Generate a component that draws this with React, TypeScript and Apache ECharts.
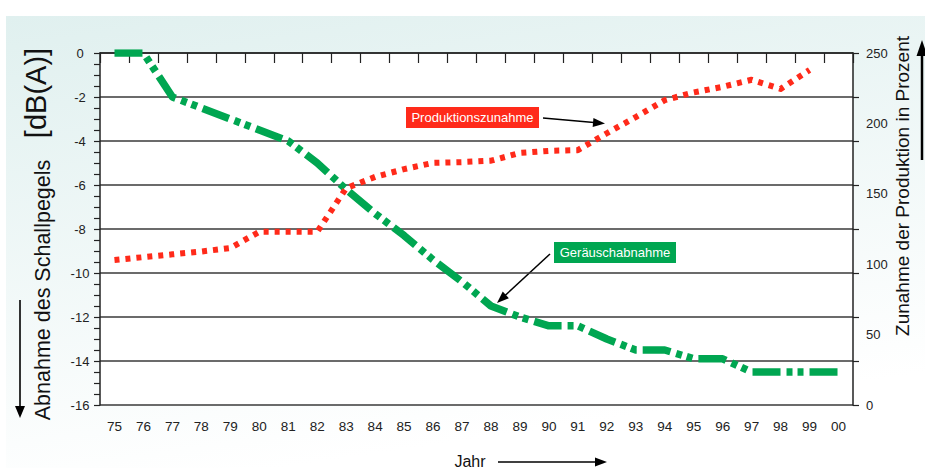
import React, { useEffect, useRef } from "react";
import * as echarts from "echarts";

const years = ["75","76","77","78","79","80","81","82","83","84","85","86","87","88","89","90","91","92","93","94","95","96","97","98","99","00"];
const noiseDb = [0, 0, -2, -2.5, -3, -3.5, -4, -5, -6.2, -7.3, -8.3, -9.4, -10.4, -11.5, -12, -12.4, -12.4, -13, -13.5, -13.5, -13.9, -13.9, -14.5, -14.5, -14.5, -14.5];
const production = [103, 105, 107, 109, 111.5, 123, 123, 123, 154, 162, 167.5, 172, 172.5, 173.5, 179, 180.5, 181, 193, 204.5, 216.5, 222, 226, 231, 224.5, 238, null];
const leftTicks = { min: -16, max: 0, step: 2 };
const rightTicks = { min: 0, max: 250, step: 50 };

const FONT = "'Liberation Sans', Arial, Helvetica, sans-serif";
const GREEN = "#00a651";
const RED = "#ff2a1a";

function f(size: number) {
  return `${size}px ${FONT}`;
}

function arrowHead(tipX: number, tipY: number, fromX: number, fromY: number, len: number, half: number, color: string) {
  const dx = tipX - fromX, dy = tipY - fromY;
  const l = Math.sqrt(dx * dx + dy * dy);
  const ux = dx / l, uy = dy / l;
  const bx = tipX - ux * len, by = tipY - uy * len;
  const px = -uy * half, py = ux * half;
  return {
    type: "polygon",
    shape: { points: [[tipX, tipY], [bx + px, by + py], [bx - px, by - py]] },
    style: { fill: color },
    silent: true,
  };
}

function arrow(x1: number, y1: number, x2: number, y2: number, width: number, len: number, half: number) {
  const dx = x2 - x1, dy = y2 - y1;
  const l = Math.sqrt(dx * dx + dy * dy);
  const ex = x2 - (dx / l) * (len - 1), ey = y2 - (dy / l) * (len - 1);
  return [
    { type: "line", shape: { x1, y1, x2: ex, y2: ey }, style: { stroke: "#000", lineWidth: width }, silent: true },
    arrowHead(x2, y2, x1, y1, len, half, "#000"),
  ];
}

function label(x: number, y: number, text: string, size: number, fill: string, rot = 0) {
  return {
    type: "text",
    x,
    y,
    rotation: rot,
    z: 11,
    style: { text, fill, font: f(size), fontSize: size, fontFamily: FONT, align: "center", verticalAlign: "middle" },
    silent: true,
  };
}

export default function App() {
  const ref = useRef<HTMLDivElement>(null);
  useEffect(() => {
    if (!ref.current) return;
    const chart = echarts.init(ref.current, undefined, { renderer: "svg" });
    const option: any = {
      animation: false,
      backgroundColor: "#ffffff",
      textStyle: { fontFamily: FONT },
      grid: { left: 100, right: 72, top: 53, bottom: 63, show: true, backgroundColor: "#ffffff", borderWidth: 0 },
      xAxis: {
        type: "category",
        data: years,
        boundaryGap: true,
        axisLine: { lineStyle: { color: "#222", width: 1.5 } },
        axisTick: { show: true, length: 10, lineStyle: { color: "#222", width: 1.2 } },
        axisLabel: { color: "#222", fontSize: 13.5, margin: 14, fontFamily: FONT },
        splitLine: { show: false },
      },
      yAxis: [
        {
          type: "value",
          min: leftTicks.min,
          max: leftTicks.max,
          interval: leftTicks.step,
          position: "left",
          axisLine: { show: true, lineStyle: { color: "#222", width: 1.5 } },
          axisTick: { show: true, length: 6, lineStyle: { color: "#222", width: 1.2 } },
          minorTick: { show: true, splitNumber: 4, length: 6, lineStyle: { color: "#222", width: 1.2 } },
          axisLabel: { color: "#222", fontSize: 13, margin: 20, align: "center", fontFamily: FONT },
          splitLine: { show: true, lineStyle: { color: "#3a3a3a", width: 1.5 } },
        },
        {
          type: "value",
          min: rightTicks.min,
          max: rightTicks.max,
          interval: rightTicks.step,
          position: "right",
          axisLine: { show: false },
          axisTick: { show: false },
          axisLabel: { color: "#222", fontSize: 13, margin: 13, fontFamily: FONT },
          splitLine: { show: false },
        },
        {
          type: "value",
          min: leftTicks.min,
          max: leftTicks.max,
          interval: leftTicks.step,
          position: "right",
          axisLine: { show: true, lineStyle: { color: "#222", width: 1.5 } },
          axisTick: { show: true, length: 6, lineStyle: { color: "#222", width: 1.2 } },
          axisLabel: { show: false },
          splitLine: { show: false },
        },
      ],
      series: [
        {
          name: "Geräuschabnahme",
          type: "line",
          yAxisIndex: 0,
          data: noiseDb,
          showSymbol: false,
          symbol: "none",
          lineStyle: { color: GREEN, width: 7.5, type: [28, 6, 6, 5, 6, 6], cap: "butt", join: "round" },
          z: 3,
        },
        {
          name: "Produktionszunahme",
          type: "line",
          yAxisIndex: 1,
          data: production,
          showSymbol: false,
          symbol: "none",
          lineStyle: { color: RED, width: 6, type: [5, 6], cap: "butt", join: "round" },
          z: 4,
        },
      ],
      graphic: [
        {
          type: "rect",
          z: -100,
          shape: { x: 6, y: 16, width: 919, height: 452 },
          style: {
            fill: new echarts.graphic.LinearGradient(0, 0, 0.3, 1, [
              { offset: 0, color: "#e0f0ef" },
              { offset: 1, color: "#ffffff" },
            ]),
          },
          silent: true,
        },
        {
          type: "rect",
          shape: { x: 406, y: 107, width: 133, height: 21 },
          style: { fill: RED },
          z: 10,
        },
        label(472.5, 117.5, "Produktionszunahme", 13, "#fff"),
        ...arrow(543, 118, 605, 123.5, 1.5, 12, 4.5),
        {
          type: "rect",
          shape: { x: 554, y: 242, width: 122, height: 21 },
          style: { fill: GREEN },
          z: 10,
        },
        label(615, 252.5, "Geräuschabnahme", 13, "#fff"),
        ...arrow(550, 254, 497, 303, 1.5, 12, 4.5),
        label(43, 290, "Abnahme des Schallpegels", 21.5, "#111", Math.PI / 2),
        label(36, 93, "[dB(A)]", 29, "#111", Math.PI / 2),
        ...arrow(20, 300, 20, 418, 1.6, 12, 5),
        label(902, 186, "Zunahme der Produktion in Prozent", 19, "#111", Math.PI / 2),
        ...arrow(922, 160, 922, 40, 2.5, 16, 5.5),
        label(470, 461, "Jahr", 16, "#111"),
        ...arrow(498, 462, 607, 462, 1.6, 12, 4.5),
      ],
    };
    chart.setOption(option);
    return () => chart.dispose();
  }, []);
  return <div ref={ref} style={{ position: "fixed", left: 0, top: 0, width: 925, height: 468 }} />;
}
